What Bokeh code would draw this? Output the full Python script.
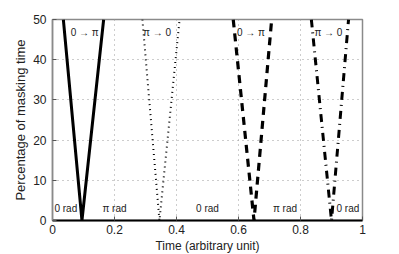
from bokeh.plotting import figure
from bokeh.models import Range1d, FixedTicker, Label
from bokeh.embed import file_html
from bokeh.resources import INLINE

# V-shaped masking profiles: (time, percentage)
solid_x = [0.035, 0.095, 0.165]
solid_y = [50, 0, 50]
dotted_x = [0.29, 0.345, 0.41]
dotted_y = [50, 0, 50]
dashed_x = [0.583, 0.65, 0.707]
dashed_y = [50, 0, 50]
dashdot_x = [0.835, 0.9, 0.955]
dashdot_y = [50, 0, 50]

trans_labels = ["0 \u2192 \u03c0", "\u03c0 \u2192 0", "0 \u2192 \u03c0", "\u03c0 \u2192 0"]
trans_x = [0.104, 0.337, 0.64, 0.89]
trans_y = [46.7, 46.7, 46.7, 46.7]

rad_labels = ["0 rad", "\u03c0 rad", "0 rad", "\u03c0 rad", "0 rad"]
rad_x = [0.043, 0.2, 0.5, 0.75, 0.953]
rad_y = [1.5, 1.5, 1.5, 1.5, 1.5]

x_ticks = [0, 0.2, 0.4, 0.6, 0.8, 1]
y_ticks = [0, 10, 20, 30, 40, 50]

FONT = "Liberation Sans"

p = figure(frame_width=310, frame_height=201, output_backend="svg",
           toolbar_location=None, x_range=Range1d(0, 1), y_range=Range1d(0, 50),
           min_border_left=52, min_border_top=19, min_border_right=15,
           min_border_bottom=10)
p.background_fill_color = "white"
p.border_fill_color = "white"
p.outline_line_color = "#8a8a8a"
p.outline_line_width = 1.5

for ax, ticks in ((p.xaxis[0], x_ticks), (p.yaxis[0], y_ticks)):
    ax.ticker = FixedTicker(ticks=ticks)
    ax.major_tick_in = 4
    ax.major_tick_out = 0
    ax.minor_tick_line_color = None
    ax.major_label_text_font = FONT
    ax.major_label_text_font_size = "12px"
    ax.major_label_text_color = "#222222"
    ax.axis_label_text_font = FONT
    ax.axis_label_text_font_size = "12px"
    ax.axis_label_text_font_style = "normal"
    ax.axis_label_text_color = "#222222"
    ax.major_tick_line_color = "#555555"

p.yaxis.axis_label_text_font_size = "13px"
p.xaxis.major_label_overrides = {0: "0", 0.2: "0.2", 0.4: "0.4", 0.6: "0.6", 0.8: "0.8", 1: "1"}
p.yaxis.major_label_overrides = {t: str(t) for t in y_ticks}
p.xaxis.axis_label = "Time (arbitrary unit)"
p.yaxis.axis_label = "Percentage of masking time"
p.xaxis.axis_line_color = "black"
p.xaxis.axis_line_width = 2
p.yaxis.axis_line_color = "#8a8a8a"
p.yaxis.axis_line_width = 1.5
p.xaxis.major_label_standoff = 4
p.yaxis.major_label_standoff = 6
p.xaxis.axis_label_standoff = 2
p.yaxis.axis_label_standoff = 2

p.xgrid.ticker = FixedTicker(ticks=[0.2, 0.4, 0.6, 0.8])
p.ygrid.ticker = FixedTicker(ticks=[10, 20, 30, 40])
for g in (p.xgrid[0], p.ygrid[0]):
    g.grid_line_color = "#9a9a9a"
    g.grid_line_dash = "1 4"
    g.grid_line_width = 1

p.line(solid_x, solid_y, line_color="black", line_width=3)
p.line(dotted_x, dotted_y, line_color="black", line_width=2, line_dash="1 4")
p.line(dashed_x, dashed_y, line_color="black", line_width=3.2, line_dash="8 6")
p.line(dashdot_x, dashdot_y, line_color="black", line_width=3, line_dash="8 5 1 5")

for t, x, y in zip(trans_labels, trans_x, trans_y):
    p.add_layout(Label(x=x, y=y, text=t, text_align="center", text_baseline="middle",
                       text_font=FONT, text_font_size="10px", text_color="#222222"))

for t, x, y in zip(rad_labels, rad_x, rad_y):
    p.add_layout(Label(x=x, y=y, text=t, text_align="center", text_baseline="bottom",
                       text_font=FONT, text_font_size="10px", text_color="#222222"))

open("out.html", "w").write(file_html(p, INLINE))
